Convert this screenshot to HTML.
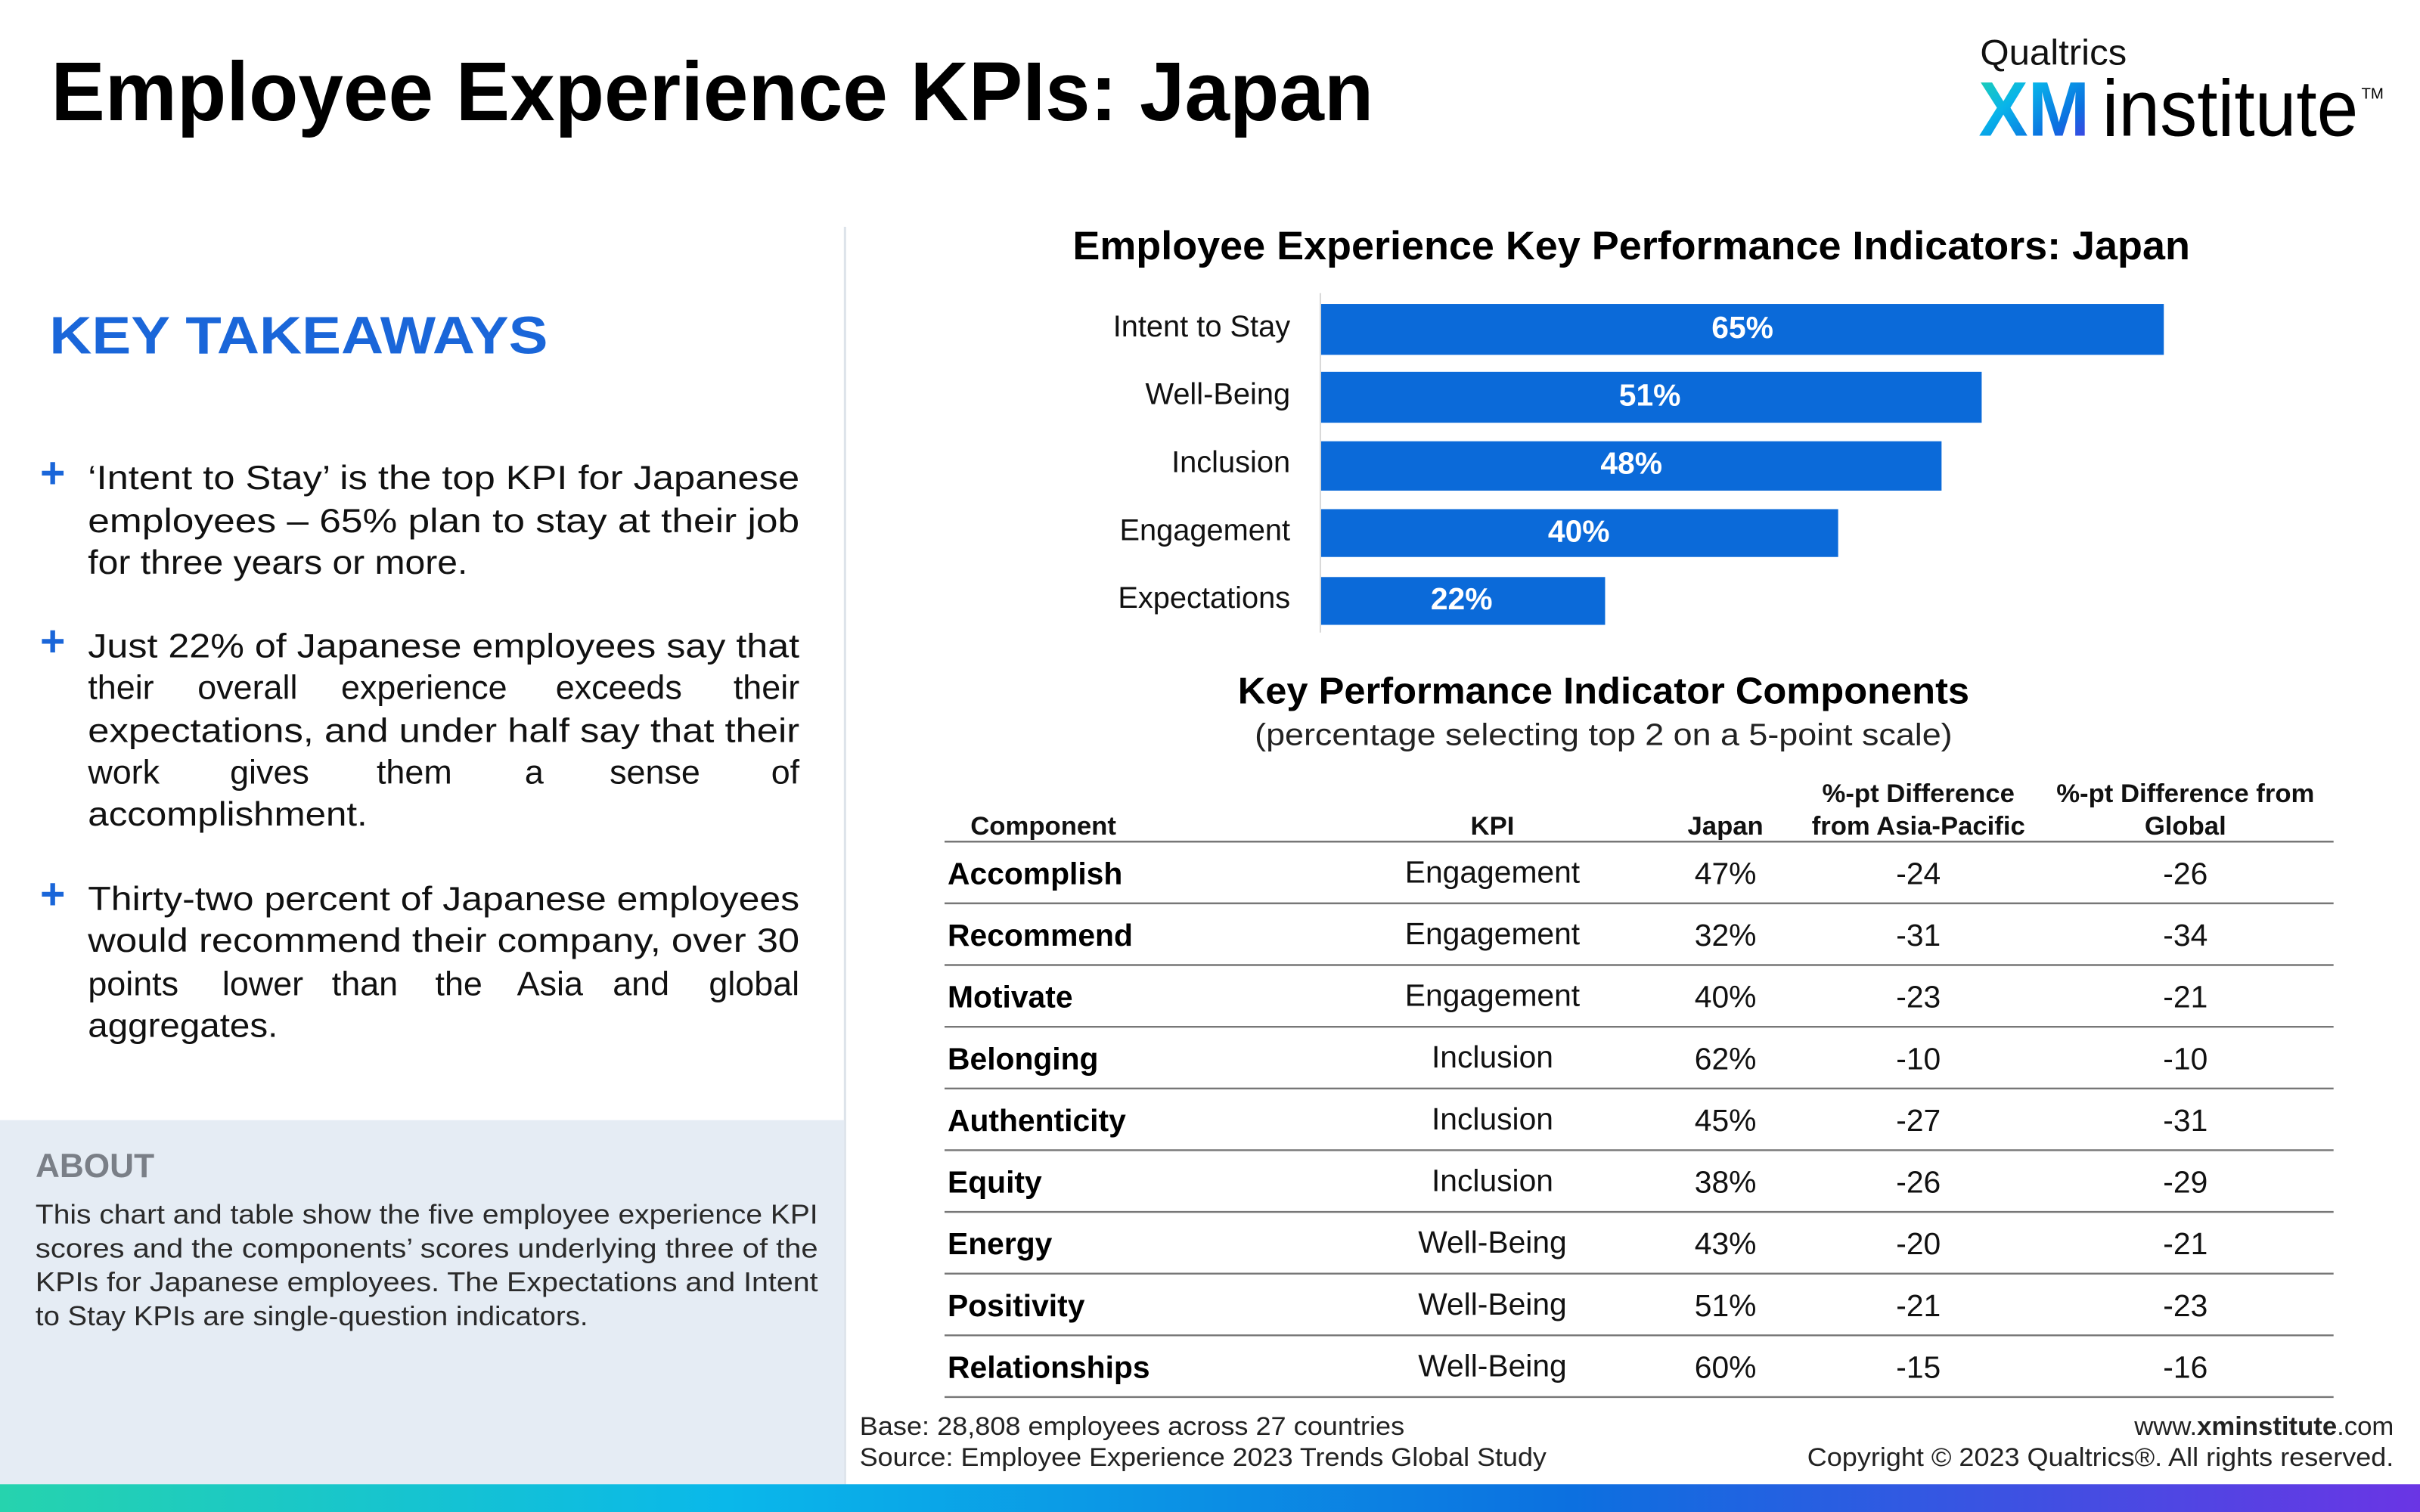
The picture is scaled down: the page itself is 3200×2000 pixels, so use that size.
<!DOCTYPE html>
<html><head><meta charset="utf-8"><style>
html,body{margin:0;padding:0;background:#fff;}
svg{display:block;}
text{font-family:"Liberation Sans",sans-serif;}
</style></head><body>
<svg width="3200" height="2000" viewBox="0 0 1568 980" xmlns="http://www.w3.org/2000/svg">
<defs>
<linearGradient id="xm" x1="0" y1="0" x2="1" y2="1">
<stop offset="0" stop-color="#23d6a6"/><stop offset="0.35" stop-color="#08b4ea"/><stop offset="0.7" stop-color="#0b6fe0"/><stop offset="1" stop-color="#5a2ee6"/></linearGradient>
<linearGradient id="bar" x1="0" y1="0" x2="1" y2="0">
<stop offset="0" stop-color="#26d3ae"/><stop offset="0.3" stop-color="#0ab8ea"/><stop offset="0.65" stop-color="#0c70e0"/><stop offset="1" stop-color="#6a35e4"/></linearGradient>
</defs>
<rect width="1568" height="980" fill="#fff"/>
<text x="33" y="78" font-size="54" font-weight="bold" textLength="857" lengthAdjust="spacingAndGlyphs" fill="#000">Employee Experience KPIs: Japan</text>
<text x="1283" y="42" font-size="23" textLength="95" lengthAdjust="spacingAndGlyphs" fill="#111">Qualtrics</text>
<text x="1282" y="88" font-size="50" font-weight="bold" textLength="72" lengthAdjust="spacingAndGlyphs" fill="url(#xm)">XM</text>
<text x="1362" y="88" font-size="52" textLength="166" lengthAdjust="spacingAndGlyphs" fill="#000">institute</text>
<text x="1530" y="64" font-size="10" fill="#000">TM</text>
<line x1="547.5" y1="147" x2="547.5" y2="962" stroke="#dde3ea" stroke-width="1.5"/>
<text x="32" y="229" font-size="34" font-weight="bold" textLength="323" lengthAdjust="spacingAndGlyphs" fill="#1a66d9">KEY TAKEAWAYS</text>
<g font-size="22" fill="#111">
<text x="26" y="316" font-size="28" font-weight="bold" fill="#1a66d9">+</text>
<text x="57" y="317" textLength="461" lengthAdjust="spacingAndGlyphs">‘Intent to Stay’ is the top KPI for Japanese</text>
<text x="57" y="345" textLength="461" lengthAdjust="spacingAndGlyphs">employees – 65% plan to stay at their job</text>
<text x="57" y="372" textLength="246" lengthAdjust="spacingAndGlyphs">for three years or more.</text>
<text x="26" y="425" font-size="28" font-weight="bold" fill="#1a66d9">+</text>
<text x="57" y="426" textLength="461" lengthAdjust="spacingAndGlyphs">Just 22% of Japanese employees say that</text>
<text x="57" y="453">their</text><text x="128" y="453">overall</text><text x="221" y="453">experience</text><text x="360" y="453">exceeds</text><text x="518" y="453" text-anchor="end">their</text>
<text x="57" y="481" textLength="461" lengthAdjust="spacingAndGlyphs">expectations, and under half say that their</text>
<text x="57" y="508">work</text><text x="149" y="508">gives</text><text x="244" y="508">them</text><text x="340" y="508">a</text><text x="395" y="508">sense</text><text x="518" y="508" text-anchor="end">of</text>
<text x="57" y="535" textLength="181" lengthAdjust="spacingAndGlyphs">accomplishment.</text>
<text x="26" y="589" font-size="28" font-weight="bold" fill="#1a66d9">+</text>
<text x="57" y="590" textLength="461" lengthAdjust="spacingAndGlyphs">Thirty-two percent of Japanese employees</text>
<text x="57" y="617" textLength="461" lengthAdjust="spacingAndGlyphs">would recommend their company, over 30</text>
<text x="57" y="645">points</text><text x="144" y="645">lower</text><text x="215" y="645">than</text><text x="282" y="645">the</text><text x="335" y="645">Asia</text><text x="397" y="645">and</text><text x="518" y="645" text-anchor="end">global</text>
<text x="57" y="672" textLength="123" lengthAdjust="spacingAndGlyphs">aggregates.</text>
</g>
<rect x="0" y="726" width="547" height="236" fill="#e5ecf4"/>
<text x="23" y="763" font-size="22" font-weight="bold" textLength="77" lengthAdjust="spacingAndGlyphs" fill="#7a7f87">ABOUT</text>
<g font-size="17.5" fill="#2a2a2a">
<text x="23" y="793" textLength="507" lengthAdjust="spacingAndGlyphs">This chart and table show the five employee experience KPI</text>
<text x="23" y="815" textLength="507" lengthAdjust="spacingAndGlyphs">scores and the components’ scores underlying three of the</text>
<text x="23" y="837" textLength="507" lengthAdjust="spacingAndGlyphs">KPIs for Japanese employees. The Expectations and Intent</text>
<text x="23" y="859" textLength="358" lengthAdjust="spacingAndGlyphs">to Stay KPIs are single-question indicators.</text>
</g>
<text x="695" y="168" font-size="26" font-weight="bold" textLength="724" lengthAdjust="spacingAndGlyphs" fill="#000">Employee Experience Key Performance Indicators: Japan</text>
<line x1="855.5" y1="190" x2="855.5" y2="410" stroke="#d8d8d8" stroke-width="1"/>
<g fill="#0b6ad9">
<rect x="856" y="197" width="546" height="33"/>
<rect x="856" y="241" width="428" height="33"/>
<rect x="856" y="286" width="402" height="32"/>
<rect x="856" y="330" width="335" height="31"/>
<rect x="856" y="374" width="184" height="31"/>
</g>
<g font-size="20" font-weight="bold" fill="#fff" text-anchor="middle">
<text x="1129" y="219">65%</text><text x="1069" y="263">51%</text><text x="1057" y="307">48%</text><text x="1023" y="351">40%</text><text x="947" y="395">22%</text>
</g>
<g font-size="19.5" fill="#111" text-anchor="end">
<text x="836" y="218">Intent to Stay</text><text x="836" y="262">Well-Being</text><text x="836" y="306">Inclusion</text><text x="836" y="350">Engagement</text><text x="836" y="394">Expectations</text>
</g>
<text x="1039" y="456" font-size="24" font-weight="bold" text-anchor="middle" textLength="474" lengthAdjust="spacingAndGlyphs" fill="#000">Key Performance Indicator Components</text>
<text x="1039" y="483" font-size="20" text-anchor="middle" textLength="452" lengthAdjust="spacingAndGlyphs" fill="#222">(percentage selecting top 2 on a 5-point scale)</text>
<g font-size="17" font-weight="bold" fill="#111" text-anchor="middle">
<text x="676" y="541">Component</text><text x="967" y="541">KPI</text><text x="1118" y="541">Japan</text>
<text x="1243" y="520">%-pt Difference</text><text x="1243" y="541">from Asia-Pacific</text>
<text x="1416" y="520">%-pt Difference from</text><text x="1416" y="541">Global</text>
</g>
<g stroke="#777" stroke-width="1.2">
<line x1="612" y1="545.5" x2="1512" y2="545.5"/>
<line x1="612" y1="585.5" x2="1512" y2="585.5"/>
<line x1="612" y1="625.5" x2="1512" y2="625.5"/>
<line x1="612" y1="665.5" x2="1512" y2="665.5"/>
<line x1="612" y1="705.5" x2="1512" y2="705.5"/>
<line x1="612" y1="745.5" x2="1512" y2="745.5"/>
<line x1="612" y1="785.5" x2="1512" y2="785.5"/>
<line x1="612" y1="825.5" x2="1512" y2="825.5"/>
<line x1="612" y1="865.5" x2="1512" y2="865.5"/>
<line x1="612" y1="905.5" x2="1512" y2="905.5"/>
</g>
<g font-size="20" font-weight="bold" fill="#000">
<text x="614" y="573">Accomplish</text><text x="614" y="613">Recommend</text><text x="614" y="653">Motivate</text><text x="614" y="693">Belonging</text><text x="614" y="733">Authenticity</text><text x="614" y="773">Equity</text><text x="614" y="813">Energy</text><text x="614" y="853">Positivity</text><text x="614" y="893">Relationships</text>
</g>
<g font-size="20" fill="#111" text-anchor="middle">
<text x="967" y="572">Engagement</text><text x="1118" y="573">47%</text><text x="1243" y="573">-24</text><text x="1416" y="573">-26</text>
<text x="967" y="612">Engagement</text><text x="1118" y="613">32%</text><text x="1243" y="613">-31</text><text x="1416" y="613">-34</text>
<text x="967" y="652">Engagement</text><text x="1118" y="653">40%</text><text x="1243" y="653">-23</text><text x="1416" y="653">-21</text>
<text x="967" y="692">Inclusion</text><text x="1118" y="693">62%</text><text x="1243" y="693">-10</text><text x="1416" y="693">-10</text>
<text x="967" y="732">Inclusion</text><text x="1118" y="733">45%</text><text x="1243" y="733">-27</text><text x="1416" y="733">-31</text>
<text x="967" y="772">Inclusion</text><text x="1118" y="773">38%</text><text x="1243" y="773">-26</text><text x="1416" y="773">-29</text>
<text x="967" y="812">Well-Being</text><text x="1118" y="813">43%</text><text x="1243" y="813">-20</text><text x="1416" y="813">-21</text>
<text x="967" y="852">Well-Being</text><text x="1118" y="853">51%</text><text x="1243" y="853">-21</text><text x="1416" y="853">-23</text>
<text x="967" y="892">Well-Being</text><text x="1118" y="893">60%</text><text x="1243" y="893">-15</text><text x="1416" y="893">-16</text>
</g>
<g font-size="17" fill="#222">
<text x="557" y="930" textLength="353" lengthAdjust="spacingAndGlyphs">Base: 28,808 employees across 27 countries</text>
<text x="557" y="950" textLength="445" lengthAdjust="spacingAndGlyphs">Source: Employee Experience 2023 Trends Global Study</text>
<text x="1551" y="930" text-anchor="end">www.<tspan font-weight="bold">xminstitute</tspan>.com</text>
<text x="1551" y="950" text-anchor="end" textLength="380" lengthAdjust="spacingAndGlyphs">Copyright © 2023 Qualtrics®. All rights reserved.</text>
</g>
<rect x="0" y="962" width="1568" height="18" fill="url(#bar)"/>
</svg>
</body></html>
